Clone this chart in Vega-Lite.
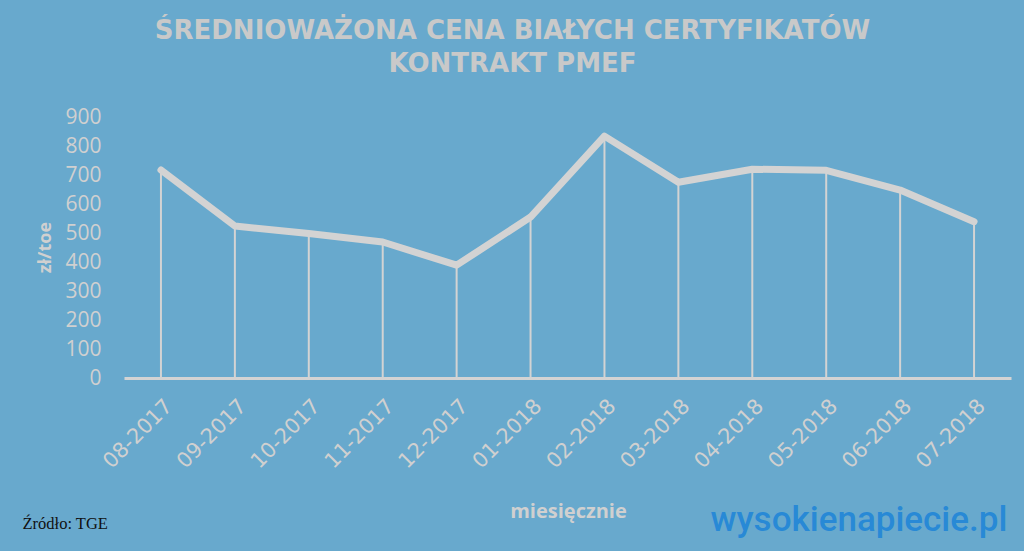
{
  "$schema": "https://vega.github.io/schema/vega-lite/v6.json",
  "width": 887,
  "height": 261,
  "autosize": {"type": "none"},
  "padding": {"left": 124, "top": 117, "right": 13, "bottom": 173},
  "background": "#68a9cd",
  "title": {
    "text": ["ŚREDNIOWAŻONA CENA BIAŁYCH CERTYFIKATÓW", "KONTRAKT PMEF"],
    "anchor": "middle",
    "frame": "group",
    "dx": -55,
    "offset": 29,
    "font": "DejaVu Sans",
    "fontSize": 26,
    "fontWeight": "bold",
    "color": "#c9c9c9",
    "lineHeight": 33
  },
  "config": {"view": {"stroke": null}, "axis": {"grid": false}},
  "data": {
    "values": [
      {"month": "08-2017", "price": 717},
      {"month": "09-2017", "price": 524},
      {"month": "10-2017", "price": 498},
      {"month": "11-2017", "price": 469},
      {"month": "12-2017", "price": 389},
      {"month": "01-2018", "price": 555},
      {"month": "02-2018", "price": 834},
      {"month": "03-2018", "price": 675},
      {"month": "04-2018", "price": 720},
      {"month": "05-2018", "price": 716},
      {"month": "06-2018", "price": 648},
      {"month": "07-2018", "price": 539}
    ]
  },
  "encoding": {
    "y": {
      "field": "price",
      "type": "quantitative",
      "scale": {"domain": [0, 900], "nice": false},
      "axis": {
        "values": [0, 100, 200, 300, 400, 500, 600, 700, 800, 900],
        "domain": false,
        "ticks": false,
        "labelPadding": 23,
        "labelFont": "Open Sans",
        "labelFontSize": 21,
        "labelColor": "#d0d0d0",
        "title": "zł/toe",
        "titleFont": "Open Sans",
        "titleFontSize": 18,
        "titleFontWeight": "bold",
        "titleColor": "#d0d0d0",
        "titleX": -79,
        "titleY": 130,
        "titleAlign": "center",
        "titleBaseline": "middle",
        "titleAngle": -90
      }
    }
  },
  "resolve": {"axis": {"x": "independent"}},
  "layer": [
    {
      "mark": {"type": "rule", "color": "#d3d3d3", "strokeWidth": 2},
      "encoding": {
        "x": {
          "field": "month",
          "type": "ordinal",
          "sort": null,
          "scale": {"type": "point", "padding": 0.5},
          "axis": {
            "orient": "bottom",
            "labelAngle": -45,
            "labelFont": "DejaVu Sans",
            "labelFontSize": 21,
            "labelColor": "#d0d0d0",
            "labelPadding": 17,
            "ticks": false,
            "domainColor": "#d3d3d3",
            "domainWidth": 3,
            "title": "miesięcznie",
            "titleFont": "Open Sans",
            "titleFontSize": 20,
            "titleFontWeight": "bold",
            "titleColor": "#d0d0d0",
            "titleX": 444,
            "titleY": 139,
            "titleAlign": "center",
            "titleBaseline": "alphabetic"
          }
        },
        "y2": {"datum": 0}
      }
    },
    {
      "mark": {"type": "line", "color": "#d3d3d3", "strokeWidth": 7, "strokeCap": "round", "strokeJoin": "round"},
      "encoding": {
        "x": {"field": "month", "type": "ordinal", "sort": null, "axis": null}
      }
    },
    {
      "mark": {"type": "point", "opacity": 0},
      "encoding": {
        "x": {
          "field": "month",
          "type": "ordinal",
          "sort": null,
          "axis": {
            "orient": "bottom",
            "labels": false,
            "ticks": false,
            "domain": false,
            "title": "Źródło: TGE",
            "titleFont": "Liberation Serif",
            "titleFontSize": 16.5,
            "titleFontWeight": "normal",
            "titleColor": "#111111",
            "titleX": -102,
            "titleY": 150,
            "titleAlign": "left",
            "titleBaseline": "alphabetic"
          }
        }
      }
    },
    {
      "mark": {"type": "point", "opacity": 0},
      "encoding": {
        "x": {
          "field": "month",
          "type": "ordinal",
          "sort": null,
          "axis": {
            "orient": "bottom",
            "labels": false,
            "ticks": false,
            "domain": false,
            "title": "wysokienapiecie.pl",
            "titleFont": "Roboto",
            "titleFontSize": 35,
            "titleFontWeight": 500,
            "titleColor": "#2889d6",
            "titleX": 586,
            "titleY": 152,
            "titleAlign": "left",
            "titleBaseline": "alphabetic"
          }
        }
      }
    }
  ]
}
